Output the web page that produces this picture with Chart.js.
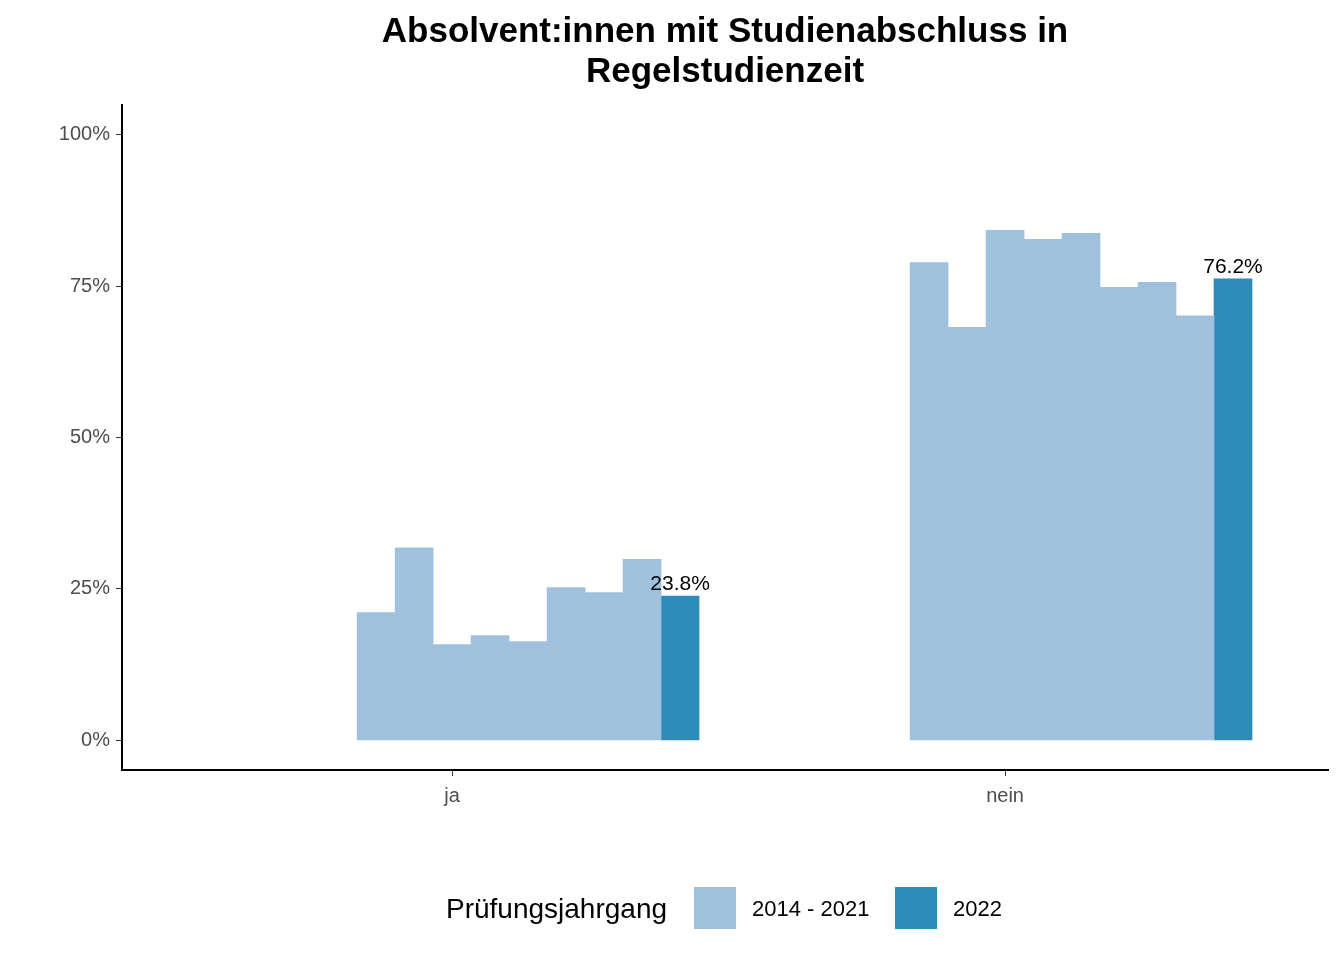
<!DOCTYPE html>
<html><head><meta charset="utf-8">
<script src="https://cdn.jsdelivr.net/npm/chart.js@4"></script>
<style>body{margin:0;background:#fff}</style>
</head><body>
<canvas id="c" width="1344" height="960"></canvas>
<script>
var categories = ['ja', 'nein'];
var years = ['2014','2015','2016','2017','2018','2019','2020','2021','2022'];
var jaValues = [21.1, 31.8, 15.8, 17.3, 16.3, 25.2, 24.4, 29.9, 23.8];
var neinValues = [78.9, 68.2, 84.2, 82.7, 83.7, 74.8, 75.6, 70.1, 76.2];
var yTicks = [0, 25, 50, 75, 100];
var light = '#a0c1dd', dark = '#2e8bb8';

// x position of bar i within a category (ggplot-like dodge offset)
function xPos(cat, i) { return cat + 1 - 0.1374 + i * 0.0687; }
var all = [jaValues, neinValues];
var oldPts = [], newPts = [];
all.forEach(function (vals, c) {
  vals.forEach(function (v, i) {
    (i < 8 ? oldPts : newPts).push({x: xPos(c, i), y: v});
  });
});

var font = 'Liberation Sans, Arial, sans-serif';
var deco = {
  id: 'deco',
  afterDraw: function (ch) {
    var g = ch.ctx;
    g.save();
    g.fillStyle = '#000';
    g.textAlign = 'center';
    g.font = 'bold 35px ' + font;
    g.fillText('Absolvent:innen mit Studienabschluss in', 725, 42);
    g.fillText('Regelstudienzeit', 725, 82);
    // value labels
    g.font = '21px ' + font;
    ch.getDatasetMeta(1).data.forEach(function (el, i) {
      g.fillText(newPts[i].y.toFixed(1) + '%', el.x, el.y - 6);
    });
    // legend
    g.textAlign = 'left';
    g.textBaseline = 'middle';
    g.font = '28px ' + font;
    g.fillText('Prüfungsjahrgang', 446, 910);
    g.fillStyle = light; g.fillRect(694, 887, 42, 42);
    g.fillStyle = dark; g.fillRect(895, 887, 42, 42);
    g.fillStyle = '#000';
    g.font = '22px ' + font;
    g.fillText('2014 - 2021', 752, 910);
    g.fillText('2022', 953, 910);
    g.restore();
  }
};

new Chart(document.getElementById('c').getContext('2d'), {
  type: 'bar',
  data: {
    datasets: [
      {label: '2014 - 2021', data: oldPts, backgroundColor: light, barThickness: 38, grouped: false},
      {label: '2022', data: newPts, backgroundColor: dark, barThickness: 38, grouped: false}
    ]
  },
  options: {
    responsive: false,
    animation: false,
    layout: {padding: {top: 105, right: 16, left: 0, bottom: 0}},
    plugins: {legend: {display: false}, title: {display: false}, tooltip: {enabled: false}},
    scales: {
      x: {
        type: 'linear', min: 0.403, max: 2.584, offset: false,
        afterFit: function (s) { s.height = 190; },
        afterBuildTicks: function (s) { s.ticks = [{value: 1}, {value: 2}]; },
        ticks: {
          color: '#4d4d4d', font: {size: 20, family: font}, padding: 8,
          callback: function (v) { return categories[Math.round(v) - 1]; }
        },
        grid: {drawOnChartArea: false, offset: false, tickLength: 6, color: '#333'},
        border: {color: '#000', width: 2}
      },
      y: {
        min: -4.9, max: 104.9,
        afterFit: function (s) { s.width = 122; },
        afterBuildTicks: function (s) { s.ticks = yTicks.map(function (v) { return {value: v}; }); },
        ticks: {
          color: '#4d4d4d', font: {size: 20, family: font}, padding: 6,
          callback: function (v) { return v + '%'; }
        },
        grid: {drawOnChartArea: false, tickLength: 6, color: '#333'},
        border: {color: '#000', width: 2}
      }
    }
  },
  plugins: [deco]
});
</script>
</body></html>
